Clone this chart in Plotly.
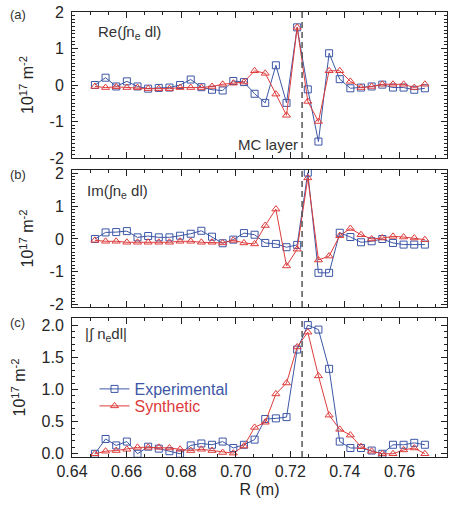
import plotly.graph_objects as go

# ---------------- data ----------------
R = [0.6484, 0.6523, 0.6562, 0.6601, 0.6640, 0.6679, 0.6718, 0.6757,
     0.6796, 0.6835, 0.6874, 0.6913, 0.6952, 0.6991, 0.7030, 0.7069,
     0.7108, 0.7147, 0.7186, 0.7225, 0.7264, 0.7303, 0.7342, 0.7381,
     0.7420, 0.7459, 0.7498, 0.7537, 0.7576, 0.7615, 0.7654, 0.7693]

re_exp = [0.00, 0.20, -0.04, 0.10, -0.04, -0.10, -0.08, -0.07,
          0.00, 0.15, -0.06, -0.13, -0.15, 0.11, 0.08, -0.24,
          -0.49, 0.54, -0.49, 1.58, -0.12, -1.55, 0.87, 0.16,
          -0.09, -0.07, -0.04, 0.01, -0.07, -0.07, -0.13, -0.09]
re_syn = [-0.04, -0.07, -0.05, -0.07, -0.07, -0.10, -0.10, -0.10,
          -0.07, -0.07, -0.07, -0.04, 0.02, 0.05, 0.08, 0.39,
          0.32, -0.25, -0.83, 1.58, -0.45, -1.00, 0.39, 0.39,
          0.10, -0.07, -0.04, 0.02, 0.02, 0.02, -0.07, 0.02]

im_exp = [0.00, 0.20, 0.21, 0.24, 0.05, 0.09, 0.05, 0.05,
          0.10, 0.16, 0.25, 0.07, -0.13, -0.02, 0.18, 0.13,
          -0.12, -0.15, -0.25, -0.18, 2.02, -1.03, -1.03, 0.19,
          0.06, -0.10, -0.07, 0.00, -0.12, -0.17, -0.17, -0.17]
im_syn = [-0.04, -0.07, -0.07, -0.10, -0.10, -0.10, -0.10, -0.10,
          -0.07, -0.07, -0.10, -0.10, -0.12, -0.04, -0.12, -0.15,
          0.41, 0.91, -0.82, -0.31, 1.86, -0.64, -0.52, 0.10,
          0.32, 0.13, 0.00, 0.03, 0.08, 0.06, 0.03, -0.02]

abs_exp = [0.00, 0.23, 0.13, 0.19, 0.00, 0.11, 0.08, 0.04,
           0.00, 0.13, 0.16, 0.14, 0.19, 0.09, 0.14, 0.22,
           0.54, 0.55, 0.57, 1.62, 2.00, 1.93, 1.32, 0.19,
           0.09, 0.09, 0.05, 0.00, 0.14, 0.14, 0.17, 0.14]
abs_syn = [0.00, 0.04, 0.05, 0.07, 0.10, 0.10, 0.10, 0.09,
           0.07, 0.05, 0.07, 0.05, 0.02, 0.01, 0.12, 0.41,
           0.49, 0.93, 1.10, 1.66, 1.89, 1.21, 0.60, 0.38,
           0.29, 0.11, 0.04, 0.00, 0.00, 0.06, 0.09, 0.00]

MC_LAYER_R = 0.7243

x_ticks = [0.64, 0.66, 0.68, 0.70, 0.72, 0.74, 0.76]
x_ticktext = ["0.64", "0.66", "0.68", "0.70", "0.72", "0.74", "0.76"]
y_ticks_ab = [-2, -1, 0, 1, 2]
y_ticktext_ab = ["-2", "-1", "0", "1", "2"]
y_ticks_c = [0.0, 0.5, 1.0, 1.5, 2.0]
y_ticktext_c = ["0.0", "0.5", "1.0", "1.5", "2.0"]

BLUE = "#3d57a6"
RED = "#dd3c3c"
FONT = "Liberation Sans, Arial, sans-serif"
TXT = "#262626"

fig = go.Figure()

panels = [("x", "y", re_exp, re_syn),
          ("x2", "y2", im_exp, im_syn),
          ("x3", "y3", abs_exp, abs_syn)]
for k, (xa, ya, ye, ys) in enumerate(panels):
    show = (k == 2)
    fig.add_trace(go.Scatter(
        x=R, y=ye, xaxis=xa, yaxis=ya, mode="lines+markers",
        name=f"<span style='color:{BLUE}'>Experimental</span>",
        showlegend=show, legend="legend",
        line=dict(color=BLUE, width=1),
        marker=dict(symbol="square-open", size=7, color=BLUE,
                    line=dict(width=1, color=BLUE))))
    fig.add_trace(go.Scatter(
        x=R, y=ys, xaxis=xa, yaxis=ya, mode="lines+markers",
        name=f"<span style='color:{RED}'>Synthetic</span>",
        showlegend=show, legend="legend2",
        line=dict(color=RED, width=1),
        marker=dict(symbol="triangle-up-open", size=7, color=RED,
                    line=dict(width=1, color=RED))))

W, H = 454, 505
L, Rm, T, B = 72, 7, 12, 48
ph = H - T - B


def frac(py):
    return (H - B - py) / ph


dom_a = [frac(158), 1.0]
dom_b = [frac(307), frac(170)]
dom_c = [0.0, frac(318)]

xcommon = dict(range=[0.64, 0.7774], tickvals=x_ticks, ticktext=x_ticktext,
               ticks="inside", ticklen=6, tickwidth=1, tickcolor="#222",
               showline=True, linecolor="#222", linewidth=1, mirror="allticks",
               showgrid=False, zeroline=False, automargin=False,
               tickfont=dict(family=FONT, size=16, color=TXT),
               minor=dict(dtick=0.02 / 3, tick0=0.64, ticks="inside",
                          ticklen=3, tickcolor="#222", showgrid=False))

ycommon = dict(ticks="inside", ticklen=6, tickwidth=1, tickcolor="#222",
               showline=True, linecolor="#222", linewidth=1, mirror="allticks",
               showgrid=False, zeroline=False, automargin=False,
               tickfont=dict(family=FONT, size=16, color=TXT),
               ticklabelstandoff=4,
               title=dict(text="10<sup>17</sup> m<sup>-2</sup>",
                          font=dict(family=FONT, size=16, color=TXT),
                          standoff=11))

leg_common = dict(xanchor="left", yanchor="middle", bgcolor="rgba(0,0,0,0)",
                  font=dict(family=FONT, size=16), itemwidth=30)

fig.update_layout(
    width=W, height=H,
    margin=dict(l=L, r=Rm, t=T, b=B),
    paper_bgcolor="white", plot_bgcolor="white",
    showlegend=True,
    legend=dict(x=0.06, y=frac(389), **leg_common),
    legend2=dict(x=0.06, y=frac(406), **leg_common),
    xaxis=dict(**xcommon, anchor="y", showticklabels=False),
    xaxis2=dict(**xcommon, anchor="y2", matches="x", showticklabels=False),
    xaxis3=dict(**xcommon, anchor="y3", matches="x", showticklabels=True,
                title=dict(text="R (m)", font=dict(family=FONT, size=16, color=TXT),
                           standoff=4)),
    yaxis=dict(**ycommon, domain=dom_a, anchor="x", range=[-2, 2],
               tickvals=y_ticks_ab, ticktext=y_ticktext_ab,
               minor=dict(dtick=0.1, ticks="inside", ticklen=3, tickcolor="#222")),
    yaxis2=dict(**ycommon, domain=dom_b, anchor="x2", range=[-2.07, 2.1],
                tickvals=y_ticks_ab, ticktext=y_ticktext_ab,
                minor=dict(dtick=0.1, ticks="inside", ticklen=3, tickcolor="#222")),
    yaxis3=dict(**ycommon, domain=dom_c, anchor="x3", range=[-0.05, 2.11],
                tickvals=y_ticks_c, ticktext=y_ticktext_c,
                minor=dict(dtick=0.1, ticks="inside", ticklen=3, tickcolor="#222")),
)

# MC layer dashed reference line in each panel
for ya in ["y", "y2", "y3"]:
    fig.add_shape(type="line", xref="x", yref=f"{ya} domain",
                  x0=MC_LAYER_R, x1=MC_LAYER_R, y0=0, y1=1,
                  line=dict(color="#555", width=1.5, dash="6px,4px"))

ann_font = dict(family=FONT, size=15, color="#333")
fig.add_annotation(text="Re(∫n<sub>e</sub> dl)", xref="x domain", yref="y domain",
                   x=0.065, y=0.86, xanchor="left", yanchor="middle",
                   showarrow=False, font=ann_font)
fig.add_annotation(text="Im(∫n<sub>e</sub> dl)", xref="x2 domain", yref="y2 domain",
                   x=0.035, y=0.84, xanchor="left", yanchor="middle",
                   showarrow=False, font=ann_font)
fig.add_annotation(text="|∫ n<sub>e</sub>dl|", xref="x3 domain", yref="y3 domain",
                   x=0.03, y=0.88, xanchor="left", yanchor="middle",
                   showarrow=False, font=ann_font)
fig.add_annotation(text="MC layer", xref="x", yref="y domain",
                   x=MC_LAYER_R, y=0.09, xanchor="right", yanchor="middle",
                   xshift=-2, showarrow=False, font=ann_font)

lab_font = dict(family=FONT, size=13, color="#333")
for lab, yr, yv in [("(a)", "y domain", 0.985), ("(b)", "y2 domain", 0.97),
                    ("(c)", "y3 domain", 0.965)]:
    fig.add_annotation(text=lab, xref="paper", yref=yr, x=-0.145, y=yv,
                       xanchor="center", yanchor="middle", showarrow=False,
                       font=lab_font)

fig.write_html("out.html")
